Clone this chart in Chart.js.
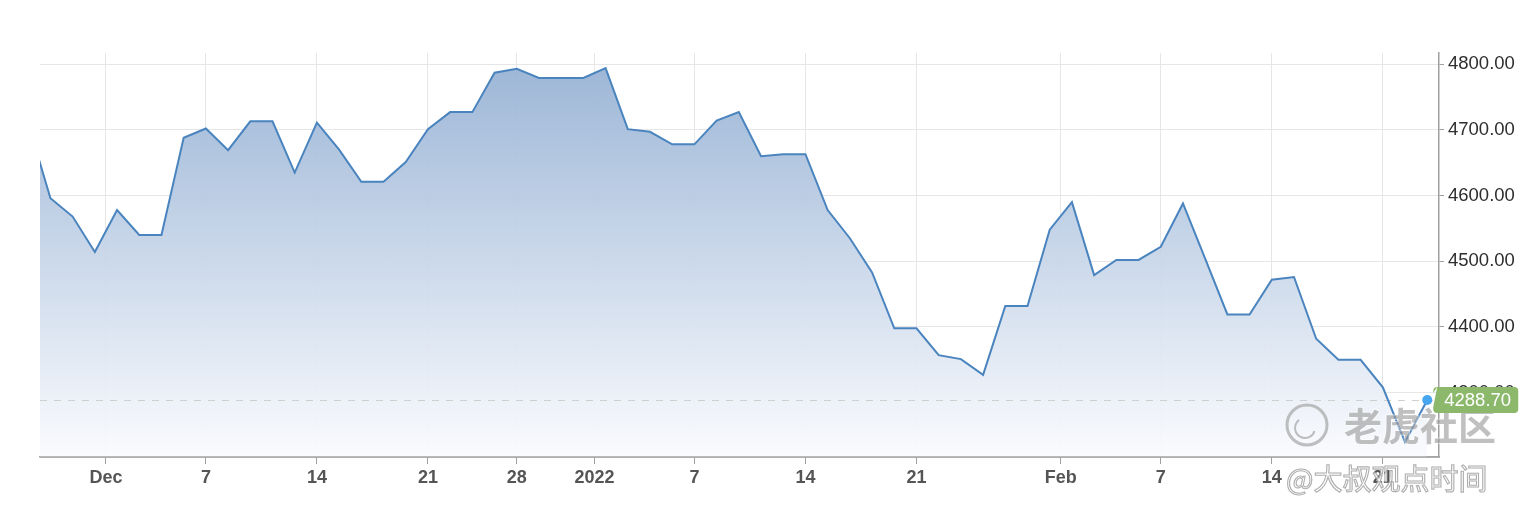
<!DOCTYPE html>
<html>
<head>
<meta charset="utf-8">
<script src="https://cdn.jsdelivr.net/npm/chart.js@4.4.1/dist/chart.umd.min.js"></script>
<style>
  html, body { margin: 0; padding: 0; background: #fff; }
  #spx { display: block; }
</style>
</head>
<body>
<canvas id="spx" width="1530" height="514"></canvas>
<script>
// one close per trading slot; the first value sits just left of the visible range
const closes = [
    4710,
    4596, 4568, 4514, 4578, 4540, 4540, 4688, 4702, 4669, 4713,
    4713, 4635, 4711, 4670, 4621, 4621, 4651, 4701, 4727, 4727,
    4787, 4793, 4779, 4779, 4779, 4794, 4701, 4697, 4678, 4678,
    4714, 4727, 4660, 4663, 4663, 4578, 4535, 4483, 4398, 4398,
    4357, 4351, 4327, 4432, 4432, 4548, 4590, 4479, 4502, 4502,
    4522, 4588, 4504, 4419, 4419, 4472, 4476, 4382, 4350, 4350,
    4308, 4225, 4288.70
];
const firstSlot = -1;

// x tick positions are slot numbers; month starts fall between two slots
const xTickPos    = [2.5, 7, 12, 17, 21, 24.5, 29, 34, 39, 45.5, 50, 55, 60];
const xTickLabels = ['Dec', '7', '14', '21', '28', '2022', '7', '14', '21', 'Feb', '7', '14', '21'];
const yTickValues = [4300, 4400, 4500, 4600, 4700, 4800];
const lastLabel = '4288.70';

const points = closes.map((v, k) => ({ x: firstSlot + k, y: v }));

function roundRect(ctx, x, y, w, h, r) {
    ctx.moveTo(x + r, y);
    ctx.lineTo(x + w - r, y);
    ctx.quadraticCurveTo(x + w, y, x + w, y + r);
    ctx.lineTo(x + w, y + h - r);
    ctx.quadraticCurveTo(x + w, y + h, x + w - r, y + h);
    ctx.lineTo(x + r, y + h);
    ctx.quadraticCurveTo(x, y + h, x, y + h - r);
}

const lastPrice = {
    id: 'lastPrice',
    // runs after the filler has painted the area, before the line itself
    beforeDatasetDraw(chart) {
        const { ctx, chartArea, scales } = chart;
        const y = Math.round(scales.y.getPixelForValue(closes[closes.length - 1])) + 0.5;
        ctx.save();
        ctx.strokeStyle = '#d0d0d0';
        ctx.lineWidth = 1;
        ctx.setLineDash([7, 7]);
        ctx.beginPath();
        ctx.moveTo(chartArea.left, y);
        ctx.lineTo(chartArea.right, y);
        ctx.stroke();
        ctx.restore();
    },
    afterDatasetsDraw(chart) {
        // bottom axis line back on top of the area fill
        const { ctx, chartArea } = chart;
        ctx.save();
        ctx.strokeStyle = '#a4a4a4';
        ctx.lineWidth = 1.5;
        ctx.beginPath();
        ctx.moveTo(chartArea.left, chartArea.bottom);
        ctx.lineTo(chartArea.right, chartArea.bottom);
        ctx.stroke();
        ctx.restore();
    },
    afterDraw(chart) {
        const ctx = chart.ctx;
        const meta = chart.getDatasetMeta(0);
        const pt = meta.data[meta.data.length - 1];
        const left = pt.x + 6, top = pt.y - 13, w = 85, h = 26;

        ctx.save();
        // source watermark, drawn faint so the line shows through
        ctx.strokeStyle = 'rgba(170,170,170,0.75)';
        ctx.lineWidth = 3;
        ctx.beginPath();
        ctx.arc(1307, 425, 20, 0, Math.PI * 2);
        ctx.stroke();
        ctx.lineWidth = 2;
        ctx.beginPath();
        ctx.arc(1305, 428, 10, Math.PI * 0.1, Math.PI * 1.3);
        ctx.stroke();

        ctx.font = 'bold 38px "Noto Sans CJK SC", sans-serif';
        ctx.textBaseline = 'middle';
        ctx.textAlign = 'left';
        ctx.lineWidth = 2;
        ctx.strokeStyle = 'rgba(255,255,255,0.45)';
        ctx.strokeText('老虎社区', 1344, 426);
        ctx.fillStyle = 'rgba(150,150,150,0.6)';
        ctx.fillText('老虎社区', 1344, 426);

        ctx.font = '29px "Noto Sans CJK SC", sans-serif';
        ctx.fillStyle = 'rgba(255,255,255,0.7)';
        ctx.fillText('@大叔观点时间', 1286, 479);
        ctx.lineWidth = 1.1;
        ctx.strokeStyle = 'rgba(160,160,160,0.85)';
        ctx.strokeText('@大叔观点时间', 1286, 479);

        // last price flag
        ctx.fillStyle = '#8cb86c';
        ctx.beginPath();
        ctx.moveTo(pt.x + 1, pt.y);
        ctx.lineTo(left, pt.y - 7);
        ctx.lineTo(left, top + 4);
        ctx.quadraticCurveTo(left, top, left + 4, top);
        roundRect(ctx, left, top, w, h, 4);
        ctx.lineTo(left, pt.y + 7);
        ctx.closePath();
        ctx.fill();

        ctx.fillStyle = '#ffffff';
        ctx.font = '18.5px "Liberation Sans", Arial, sans-serif';
        ctx.fillText(lastLabel, left + 11, pt.y + 1);

        ctx.fillStyle = '#46a6ef';
        ctx.beginPath();
        ctx.arc(pt.x, pt.y, 5, 0, Math.PI * 2);
        ctx.fill();
        ctx.restore();
    }
};

new Chart(document.getElementById('spx'), {
    type: 'line',
    data: {
        datasets: [{
            data: points,
            borderColor: '#4a84be',
            borderWidth: 2,
            tension: 0,
            pointRadius: 0,
            pointHoverRadius: 0,
            fill: 'start',
            backgroundColor: (c) => {
                const area = c.chart.chartArea;
                if (!area) return 'rgba(151,179,213,0.6)';
                const g = c.chart.ctx.createLinearGradient(0, area.top, 0, area.bottom);
                g.addColorStop(0, 'rgba(148,176,211,0.94)');
                g.addColorStop(1, 'rgba(250,251,254,0.94)');
                return g;
            }
        }]
    },
    options: {
        responsive: false,
        animation: false,
        events: [],
        layout: { padding: { left: 40, top: 53, right: 0, bottom: 0 } },
        plugins: { legend: { display: false }, tooltip: { enabled: false } },
        scales: {
            x: {
                type: 'linear',
                min: -0.47,
                max: 62.53,
                afterBuildTicks: (s) => { s.ticks = xTickPos.map(v => ({ value: v })); },
                afterFit: (s) => { s.height = 57; },
                grid: { color: '#e6e6e6', tickColor: '#a0a0a0', tickLength: 7 },
                border: { color: '#a4a4a4', width: 1.5 },
                ticks: {
                    autoSkip: false,
                    maxRotation: 0,
                    padding: 3,
                    color: '#555',
                    font: { family: '"Liberation Sans", Arial, sans-serif', size: 18, weight: 'bold' },
                    callback: (v, i) => xTickLabels[i]
                }
            },
            y: {
                position: 'right',
                min: 4202,
                max: 4817,
                afterBuildTicks: (s) => { s.ticks = yTickValues.map(v => ({ value: v })); },
                afterFit: (s) => { s.width = 91; },
                grid: { color: '#e6e6e6', tickColor: '#a0a0a0', tickLength: 5 },
                border: { color: '#a0a0a0', width: 1.5 },
                ticks: {
                    padding: 4,
                    color: '#2e2e2e',
                    font: { family: '"Liberation Sans", Arial, sans-serif', size: 18.5 },
                    callback: (v) => Number(v).toFixed(2)
                }
            }
        }
    },
    plugins: [lastPrice]
});
</script>
</body>
</html>
